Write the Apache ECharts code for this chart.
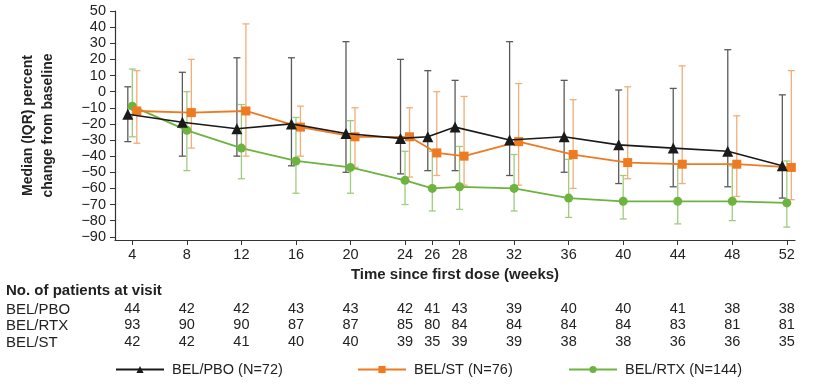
<!DOCTYPE html>
<html>
<head>
<meta charset="utf-8">
<script src="https://cdn.jsdelivr.net/npm/echarts@6/dist/echarts.min.js"></script>
<style>
html,body{margin:0;padding:0;background:#fff;}
#chart{width:815px;height:388px;}
</style>
</head>
<body>
<div id="chart"></div>
<script>
// ---- data ----
var weeks = [4, 8, 12, 16, 20, 24, 26, 28, 32, 36, 40, 44, 48, 52];
var yTicks = [-90, -80, -70, -60, -50, -40, -30, -20, -10, 0, 10, 20, 30, 40, 50];

var pboMedian = [-14, -19, -23, -20, -26, -29, -28, -22, -30, -28, -33, -35, -37, -46];
var pboLow    = [-31, -40, -40, -46, -50, -51, -49, -49, -52, -50, -57, -59, -59, -66];
var pboHigh   = [3, 12, 21, 21, 31, 20, 13, 7, 31, 7, 1, 2, 26, -2];

var stMedian  = [-12, -13, -12, -22, -28, -28, -38, -40, -31, -39, -44, -45, -45, -47];
var stLow     = [-32, -35, -40, -40, -47, -53, -52, -58, -58, -60, -54, -57, -65, -67];
var stHigh    = [13, 20, 42, -9, -10, -10, 0, -3, 5, -5, 3, 16, -15, 13];

var rtxMedian = [-9, -24, -35, -43, -47, -55, -60, -59, -60, -66, -68, -68, -68, -69];
var rtxLow    = [-28, -49, -54, -63, -63, -70, -74, -73, -74, -78, -79, -82, -80, -84];
var rtxHigh   = [14, 0, -8, -16, -18, -37, -37, -34, -39, -42, -52, -45, -46, -43];

var nPBO = [44, 42, 42, 43, 43, 42, 41, 43, 39, 40, 40, 41, 38, 38];
var nRTX = [93, 90, 90, 87, 87, 85, 80, 84, 84, 84, 84, 83, 81, 81];
var nST  = [42, 42, 41, 40, 40, 39, 35, 39, 39, 38, 38, 36, 36, 35];

var namePBO = 'BEL/PBO (N=72)';
var nameST  = 'BEL/ST (N=76)';
var nameRTX = 'BEL/RTX (N=144)';

// ---- styles ----
var FONT = 'Liberation Sans, Arial, sans-serif';
var TXT = '#222';
var FS = 14.5;
var cPBO = '#1a1a1a', cPBObar = '#5a5a5a';
var cST = '#ee7a22', cSTbar = '#f2ad78';
var cRTX = '#6cb33f', cRTXbar = '#9fcc80';
var jitter = {pbo: -0.33, st: 0.33, rtx: 0};

function pts(med, dx) { return weeks.map(function (w, i) { return [w + dx, med[i]]; }); }
function bars(lo, hi, dx) { return weeks.map(function (w, i) { return [w + dx, lo[i], hi[i]]; }); }

function errRender(color) {
  return function (params, api) {
    var x = api.value(0);
    var a = api.coord([x, api.value(1)]);
    var b = api.coord([x, api.value(2)]);
    var hw = 3.5;
    var st = {stroke: color, lineWidth: 1.3};
    return {type: 'group', children: [
      {type: 'line', shape: {x1: a[0], y1: a[1], x2: b[0], y2: b[1]}, style: st},
      {type: 'line', shape: {x1: a[0] - hw, y1: a[1], x2: a[0] + hw, y2: a[1]}, style: st},
      {type: 'line', shape: {x1: b[0] - hw, y1: b[1], x2: b[0] + hw, y2: b[1]}, style: st}
    ]};
  };
}

function countAxis(arr, offset) {
  return {
    type: 'value', gridIndex: 0, position: 'bottom', offset: offset,
    min: 2.73, max: 52.6,
    axisLine: {show: false}, axisTick: {show: false}, splitLine: {show: false},
    axisLabel: {
      customValues: weeks, margin: 0, fontSize: FS, color: TXT, fontFamily: FONT,
      formatter: function (v) { var i = weeks.indexOf(v); return i >= 0 ? String(arr[i]) : ''; }
    }
  };
}

var chart = echarts.init(document.getElementById('chart'));
var legendBase = {
  orient: 'horizontal', top: 362, padding: 0, itemWidth: 48, itemHeight: 9, itemGap: 10,
  textStyle: {fontSize: FS, color: TXT, fontFamily: FONT, padding: [0, 0, 0, 3]}
};
chart.setOption({
  backgroundColor: '#fff',
  animation: false,
  textStyle: {fontFamily: FONT},
  grid: {left: 115, right: 20, top: 11, bottom: 148, containLabel: false},
  legend: [
    Object.assign({left: 115, data: [namePBO]}, legendBase),
    Object.assign({left: 357, data: [nameST]}, legendBase),
    Object.assign({left: 568, data: [nameRTX]}, legendBase)
  ],
  xAxis: [
    {
      type: 'value', min: 2.73, max: 52.6, position: 'bottom',
      name: 'Time since first dose (weeks)', nameLocation: 'middle', nameGap: 25,
      nameTextStyle: {fontSize: 15, fontWeight: 'bold', color: TXT, fontFamily: FONT},
      axisLine: {show: true, onZero: false, lineStyle: {color: '#333', width: 1.2}},
      axisTick: {show: true, customValues: weeks, length: 5, lineStyle: {color: '#333'}},
      axisLabel: {customValues: weeks, margin: 7, fontSize: FS, color: TXT, fontFamily: FONT},
      splitLine: {show: false}
    },
    countAxis(nPBO, 61),
    countAxis(nRTX, 77),
    countAxis(nST, 94)
  ],
  yAxis: {
    type: 'value', min: -92, max: 50,
    name: 'Median (IQR) percent\nchange from baseline', nameLocation: 'middle', nameGap: 57,
    nameTextStyle: {fontSize: 14, fontWeight: 'bold', color: TXT, fontFamily: FONT, lineHeight: 20},
    axisLine: {show: true, onZero: false, lineStyle: {color: '#333', width: 1.2}},
    axisTick: {show: true, customValues: yTicks, length: 5, lineStyle: {color: '#333'}},
    axisLabel: {
      customValues: yTicks, margin: 9, fontSize: FS, color: TXT, fontFamily: FONT,
      formatter: function (v) { return v < 0 ? '\u2212' + Math.abs(v) : String(v); }
    },
    splitLine: {show: false}
  },
  graphic: [
    {type: 'text', left: 6, top: 283, style: {text: 'No. of patients at visit', fontSize: 15, fontWeight: 'bold', fill: TXT, fontFamily: FONT}},
    {type: 'text', left: 6, top: 302, style: {text: 'BEL/PBO', fontSize: 15, fill: TXT, fontFamily: FONT}},
    {type: 'text', left: 6, top: 318, style: {text: 'BEL/RTX', fontSize: 15, fill: TXT, fontFamily: FONT}},
    {type: 'text', left: 6, top: 335, style: {text: 'BEL/ST', fontSize: 15, fill: TXT, fontFamily: FONT}}
  ],
  series: [
    {type: 'custom', name: 'pboErr', renderItem: errRender(cPBObar), data: bars(pboLow, pboHigh, jitter.pbo), encode: {x: 0, y: [1, 2]}, z: 1, silent: true},
    {type: 'custom', name: 'stErr', renderItem: errRender(cSTbar), data: bars(stLow, stHigh, jitter.st), encode: {x: 0, y: [1, 2]}, z: 1, silent: true},
    {type: 'custom', name: 'rtxErr', renderItem: errRender(cRTXbar), data: bars(rtxLow, rtxHigh, jitter.rtx), encode: {x: 0, y: [1, 2]}, z: 1, silent: true},
    {type: 'line', name: nameRTX, data: pts(rtxMedian, jitter.rtx), color: cRTX, symbol: 'circle', symbolSize: 9,
      lineStyle: {width: 1.8, color: cRTX}, itemStyle: {color: cRTX}, z: 3},
    {type: 'line', name: nameST, data: pts(stMedian, jitter.st), color: cST, symbol: 'rect', symbolSize: 9,
      lineStyle: {width: 1.8, color: cST}, itemStyle: {color: cST}, z: 4},
    {type: 'line', name: namePBO, data: pts(pboMedian, jitter.pbo), color: cPBO, symbol: 'triangle', symbolSize: 11,
      lineStyle: {width: 1.6, color: cPBO}, itemStyle: {color: cPBO}, z: 5}
  ]
});
</script>
</body>
</html>
